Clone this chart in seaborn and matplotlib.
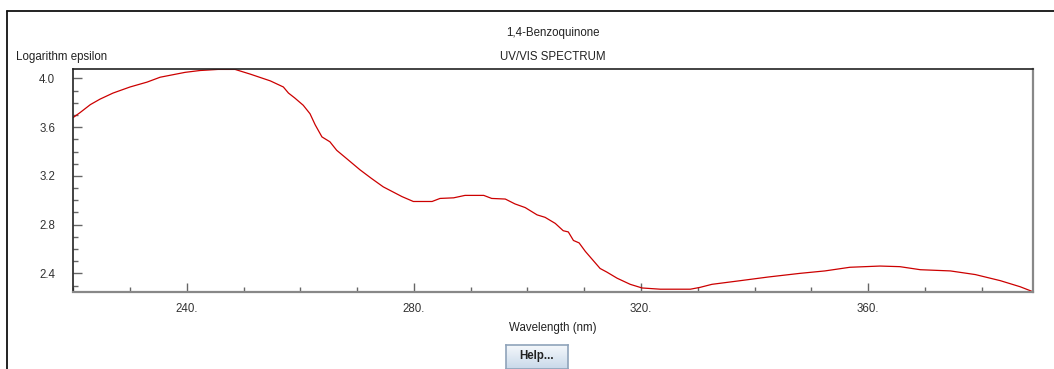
import matplotlib
matplotlib.use("Agg")
import matplotlib.pyplot as plt
import seaborn as sns
import pandas as pd
import numpy as np
from matplotlib.ticker import MultipleLocator, FuncFormatter
from matplotlib.lines import Line2D
from matplotlib.colors import LinearSegmentedColormap

wavelength_nm = [220, 221.2, 223, 224.7, 227, 230, 233, 235.3, 237.5, 239.7, 242.3,
                 245.5, 248.5, 251.2, 254.7, 257, 257.9, 259, 260.5, 261.7, 262.6,
                 263.8, 265.2, 266.4, 268.2, 270.5, 272.5, 274.6, 277.9, 279.9, 283.2,
                 284.6, 287, 289, 292.3, 293.7, 296.1, 297.8, 299.6, 301.7, 303.1,
                 304.9, 306.3, 307.2, 308.1, 309.1, 310.2, 311.5, 312.8, 314, 315.8,
                 318.1, 320.2, 323.4, 328.7, 330.4, 332.5, 337.5, 342.4, 348, 352.4,
                 356.8, 362.1, 365.6, 369.2, 374.5, 378.9, 383.3, 386.8, 389]
log_epsilon = [3.68, 3.72, 3.785, 3.83, 3.88, 3.93, 3.97, 4.01, 4.03, 4.05, 4.065,
               4.074, 4.074, 4.035, 3.98, 3.93, 3.88, 3.84, 3.78, 3.71, 3.62,
               3.52, 3.48, 3.41, 3.34, 3.25, 3.18, 3.11, 3.03, 2.99, 2.99,
               3.015, 3.02, 3.04, 3.04, 3.015, 3.01, 2.97, 2.94, 2.88, 2.86,
               2.81, 2.75, 2.74, 2.67, 2.65, 2.58, 2.51, 2.44, 2.41, 2.36,
               2.31, 2.28, 2.27, 2.27, 2.285, 2.31, 2.34, 2.37, 2.40, 2.42,
               2.45, 2.46, 2.455, 2.43, 2.42, 2.39, 2.34, 2.29, 2.25]
x_major_ticks = [240, 280, 320, 360]
y_major_ticks = [2.4, 2.8, 3.2, 3.6, 4.0]

title_text = "1,4-Benzoquinone"
subtitle_text = "UV/VIS SPECTRUM"
ylabel_text = "Logarithm epsilon"
xlabel_text = "Wavelength (nm)"

sns.set_style("white")
plt.rcParams['font.family'] = ['Liberation Sans', 'DejaVu Sans']

W, H = 1054, 369
fig = plt.figure(figsize=(W / 100, H / 100), dpi=100)
fig.patch.set_facecolor("white")

def fx(px):
    return px / W

def fy(py):
    return 1 - py / H

ax = fig.add_axes([fx(73.3), fy(292), fx(1032.7) - fx(73.3), fy(69.3) - fy(292)])

df = pd.DataFrame({"wl": wavelength_nm, "le": log_epsilon})
sns.lineplot(data=df, x="wl", y="le", ax=ax, color="#cc0000", linewidth=0.9)

ax.set_xlim(220, 389)
ax.set_ylim(2.247, 4.075)
ax.set_xlabel("")
ax.set_ylabel("")

ax.xaxis.set_major_locator(plt.FixedLocator(x_major_ticks))
ax.xaxis.set_minor_locator(MultipleLocator(10))
ax.yaxis.set_major_locator(plt.FixedLocator(y_major_ticks))
ax.yaxis.set_minor_locator(MultipleLocator(0.1))
ax.xaxis.set_major_formatter(FuncFormatter(lambda v, p: f"{v:.0f}."))
ax.yaxis.set_major_formatter(FuncFormatter(lambda v, p: f"{v:.1f}"))

ax.tick_params(axis="both", which="both", direction="in", color="#666666",
               labelcolor="#333333", labelsize=8.3, width=1,
               bottom=True, left=True, top=False, right=False)
ax.tick_params(axis="both", which="major", length=6.3)
ax.tick_params(axis="both", which="minor", length=3.5)
ax.tick_params(axis="x", which="major", pad=7.8)
ax.tick_params(axis="y", which="major", pad=13)

for side in ["top", "left"]:
    ax.spines[side].set_color("#222222")
    ax.spines[side].set_linewidth(1.2)
for side in ["bottom", "right"]:
    ax.spines[side].set_color("#888888")
    ax.spines[side].set_linewidth(1.6)

# texts
cx = (73.3 + 1032.7) / 2 / W
fig.text(cx, fy(33), title_text, ha="center", va="center", fontsize=8.3, color="#222222")
fig.text(cx, fy(57), subtitle_text, ha="center", va="center", fontsize=8.3, color="#222222")
fig.text(fx(16), fy(57), ylabel_text, ha="left", va="center", fontsize=8.3, color="#222222")
fig.text(cx, fy(328.5), xlabel_text, ha="center", va="center", fontsize=8.3, color="#222222")

# outer frame lines
fig.add_artist(Line2D([fx(7.3), 1.0], [fy(11), fy(11)], color="#111111", linewidth=1.3))
fig.add_artist(Line2D([fx(7.3), fx(7.3)], [fy(11), 0.0], color="#111111", linewidth=1.3))

# Help button
bax = fig.add_axes([fx(505.5), 0.0, fx(567.5) - fx(505.5), fy(345) - 0.0])
grad = np.linspace(0, 1, 64).reshape(-1, 1)
cmap = LinearSegmentedColormap.from_list("btn", ["#f6f9fc", "#c9d9ea"])
bax.imshow(grad, aspect="auto", cmap=cmap, extent=[0, 1, 0, 1], origin="upper")
bax.set_xlim(0, 1)
bax.set_ylim(0, 1)
bax.set_xticks([])
bax.set_yticks([])
for s in bax.spines.values():
    s.set_color("#8fa3ba")
    s.set_linewidth(1.2)
bax.text(0.5, 0.55, "Help...", ha="center", va="center", fontsize=8.3,
         fontweight="bold", color="#222222", transform=bax.transAxes)

fig.savefig("out.png", dpi=100)
